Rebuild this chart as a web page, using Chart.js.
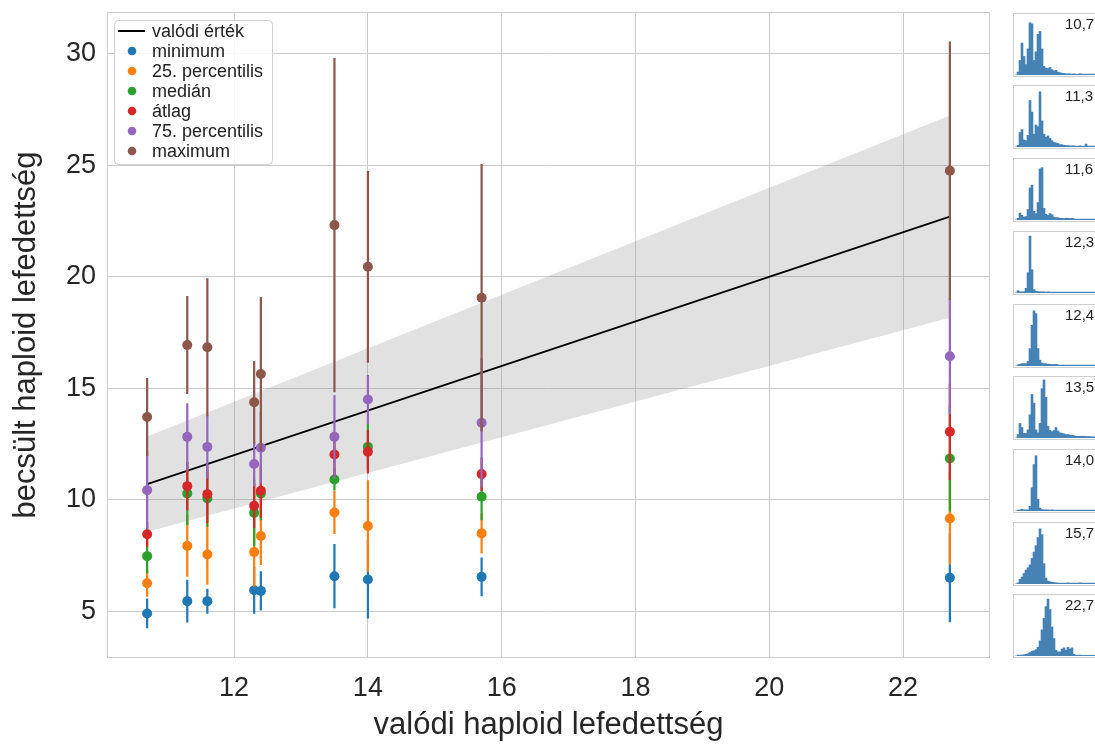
<!DOCTYPE html>
<html lang="hu">
<head>
<meta charset="UTF-8">
<title>Becsült és valódi haploid lefedettség</title>
<script src="https://cdn.jsdelivr.net/npm/chart.js@4.4.1/dist/chart.umd.min.js"></script>
<style>
    body {
        margin: 0;
        width: 1095px;
        height: 744px;
        overflow: hidden;
        background: #fff;
        position: relative;
        font-family: 'Liberation Sans', Arial, sans-serif;
    }
    #main { position: absolute; left: 0; top: 0; }
    .panel {
        position: absolute;
        left: 1013px;
        width: 88px;
        height: 64px;
        border: 1px solid #d0d0d0;
        box-sizing: border-box;
        overflow: hidden;
        background: #fff;
    }
    .panel canvas { display: block; }
</style>
</head>
<body>
<canvas id="main" width="1000" height="744"></canvas>
<div id="panels"></div>
<script>
// valódi lefedettség (x)
const trueCoverage = [10.7, 11.3, 11.6, 12.3, 12.4, 13.5, 14.0, 15.7, 22.7];

// becsült statisztikák és szórásuk
const minimum     = [4.90, 5.45, 5.45, 5.94, 5.91, 6.57, 6.42, 6.54, 6.50];
const minimumErr  = [0.67, 0.96, 0.56, 1.05, 0.88, 1.44, 1.75, 0.87, 2.00];
const pct25       = [6.25, 7.93, 7.54, 7.65, 8.37, 9.43, 8.82, 8.49, 9.16];
const pct25Err    = [0.60, 1.39, 1.35, 1.55, 1.30, 0.97, 2.05, 0.90, 2.07];
const median      = [7.47, 10.28, 10.06, 9.41, 10.28, 10.91, 12.37, 10.13, 11.85];
const medianErr   = [0.78, 1.42, 1.27, 1.50, 1.20, 0.50, 1.05, 1.05, 2.38];
const mean        = [8.45, 10.61, 10.25, 9.73, 10.40, 12.03, 12.15, 11.15, 13.05];
const meanErr     = [0.56, 1.08, 1.30, 1.00, 1.20, 1.00, 0.97, 0.75, 2.16];
const pct75       = [10.43, 12.82, 12.37, 11.60, 12.33, 12.82, 14.50, 13.45, 16.44];
const pct75Err    = [1.76, 1.51, 1.42, 1.00, 1.60, 1.87, 1.10, 2.90, 2.60];
const maximum     = [13.71, 16.94, 16.84, 14.37, 15.64, 22.32, 20.45, 19.06, 24.76];
const maximumErr  = [1.75, 2.20, 3.10, 1.85, 3.45, 7.50, 4.30, 6.00, 5.80];

// valódi érték vonal és ±20% sáv
const lineX    = [10.7, 22.7];
const lineY    = [10.7, 22.7];
const bandLow  = [8.56, 18.16];
const bandHigh = [12.84, 27.24];

const xTicks = [12, 14, 16, 18, 20, 22];
const yTicks = [5, 10, 15, 20, 25, 30];

const seriesNames = ['minimum', '25. percentilis', 'medián', 'átlag', '75. percentilis', 'maximum'];
const lineName = 'valódi érték';

// hisztogramok a jobb oldalon (relatív magasság)
const histLabels = ['10,7', '11,3', '11,6', '12,3', '12,4', '13,5', '14,0', '15,7', '22,7'];
const hist107 = [0,5,25,55,32,18,45,90,88,25,40,70,75,45,15,12,11,13,9,7,8,5,4,3,2.5,2,2,2,1.5,2,1.5,1.5,2,1.5,1.5,1.5,1.5,1.5,1.5,1.5,1.5,1.5];
const hist113 = [0,3,25,30,12,11,20,80,60,22,38,35,95,45,22,17,19,15,11,8,7,6,4,4,3,2.5,2.5,2,2,2,1.5,1.5,2,1.5,1.5,5,1.5,1.5,1.5,1.5,1.5,1.5];
const hist116 = [0,3,12,8,5,6,18,55,60,15,11,30,88,90,20,10,8,11,9,5,4,4,3,3,2.5,3,3,2.5,3,2,1.5,1.5,1.5,1.5,1.5,1.5,1.5,1.5,1.5,1.5,1.5,1.5];
const hist123 = [0,4,2,2,2,8,35,98,40,6,3,2.5,2,2,2,1.5,2,1.5,1.5,1.5,1.5,1.5,1.5,1.5,1.5,1.5,1.5,1.5,1.5,1.5,1.5,1.5,1.5,1.5,1.5,1.5,1.5,1.5,1.5,1.5,1.5,1.5];
const hist124 = [0,2,3,4,4,4,8,30,70,95,90,30,10,5,4,4,3,3,2.5,2.5,3,2,1.5,1.5,1.5,1.5,1.5,1.5,1.5,1.5,1.5,1.5,1.5,1.5,1.5,1.5,1.5,1.5,1.5,1.5,1.5,1.5];
const hist135 = [0,6,25,18,8,8,14,40,75,60,14,9,25,85,100,70,20,13,11,13,18,12,9,8,7,6,6,5,5,4,3,3,3,3,3,2.5,2.5,2.5,2,2,2,2];
const hist140 = [0,1.5,2,3,2,2,2,8,40,80,95,20,5,2.5,2,2,2,1.5,2,1.5,1.5,1.5,1.5,1.5,1.5,1.5,1.5,1.5,1.5,1.5,1.5,1.5,1.5,1.5,1.5,1.5,1.5,1.5,1.5,1.5,1.5,1.5];
const hist157 = [0,2,8,12,18,24,28,33,44,55,66,80,95,85,35,10,5,4,3,2.5,2,1.5,1.5,1.5,1.5,1.5,2,1.5,1.5,1.5,1.5,1.5,2,1.5,1.5,1.5,1.5,1.5,1.5,1.5,1.5,1.5];
const hist227 = [0,1.5,1.5,1.5,2,3,4,6,8,9,11,15,26,45,65,85,98,80,50,30,10,7,7,12,14,10,15,12,14,3,1.5,1.5,1.5,1,1,1,1,1,1,1,1,1];
const histograms = [hist107, hist113, hist116, hist123, hist124, hist135, hist140, hist157, hist227];

const colors = ['#1f77b4', '#ff7f0e', '#2ca02c', '#d62728', '#9467bd', '#8c564b'];
const values = [minimum, pct25, median, mean, pct75, maximum];
const errors = [minimumErr, pct25Err, medianErr, meanErr, pct75Err, maximumErr];

const tickFont = { family: "'Liberation Sans', Arial, sans-serif", size: 27 };
const titleFont = { family: "'Liberation Sans', Arial, sans-serif", size: 31 };
const textColor = '#262626';
const gridColor = '#cccccc';

// datasets: sáv, vonal, majd minden statisztika hibasávval és pontokkal
const datasets = [];
datasets.push({
    type: 'line', data: lineX.map((x, i) => ({ x: x, y: bandHigh[i] })),
    borderWidth: 0, pointRadius: 0, fill: '+1',
    backgroundColor: 'rgba(128,128,128,0.24)', order: 30
});
datasets.push({
    type: 'line', data: lineX.map((x, i) => ({ x: x, y: bandLow[i] })),
    borderWidth: 0, pointRadius: 0, fill: false, order: 30
});
datasets.push({
    type: 'line', data: lineX.map((x, i) => ({ x: x, y: lineY[i] })),
    borderColor: '#000', borderWidth: 1.8, pointRadius: 0, fill: false, order: 29
});
values.forEach((vals, k) => {
    const bars = [];
    trueCoverage.forEach((x, i) => {
        bars.push({ x: x, y: vals[i] - errors[k][i] });
        bars.push({ x: x, y: vals[i] + errors[k][i] });
        bars.push({ x: x, y: null });
    });
    datasets.push({
        type: 'line', data: bars, borderColor: colors[k], borderWidth: 2.2,
        pointRadius: 0, fill: false, spanGaps: false, showLine: true,
        borderCapStyle: 'butt', order: 20 - 2 * k
    });
    datasets.push({
        type: 'scatter', data: trueCoverage.map((x, i) => ({ x: x, y: vals[i] })),
        backgroundColor: colors[k], borderWidth: 0, pointRadius: 5, order: 19 - 2 * k
    });
});

const framePlugin = {
    id: 'frame',
    beforeDatasetsDraw(chart) {
        const a = chart.chartArea, ctx = chart.ctx;
        ctx.save();
        ctx.strokeStyle = gridColor;
        ctx.lineWidth = 1;
        ctx.strokeRect(Math.round(a.left) + 0.5, Math.round(a.top) + 0.5,
            Math.round(a.right - a.left) - 1, Math.round(a.bottom - a.top) - 1);
        ctx.restore();
    }
};

const legendPlugin = {
    id: 'boxLegend',
    afterDraw(chart) {
        const a = chart.chartArea, ctx = chart.ctx;
        const left = a.left + 7, top = a.top + 8;
        const w = 158, h = 144, r = 4;
        ctx.save();
        ctx.beginPath();
        ctx.roundRect(left + 0.5, top + 0.5, w, h, r);
        ctx.fillStyle = 'rgba(255,255,255,0.85)';
        ctx.fill();
        ctx.strokeStyle = '#d0d0d0';
        ctx.lineWidth = 1;
        ctx.stroke();
        ctx.font = "18px 'Liberation Sans', Arial, sans-serif";
        ctx.textBaseline = 'middle';
        ctx.fillStyle = '#222';
        let y = top + 11;
        ctx.strokeStyle = '#000';
        ctx.lineWidth = 2;
        ctx.beginPath();
        ctx.moveTo(left + 4, y);
        ctx.lineTo(left + 31, y);
        ctx.stroke();
        ctx.fillText(lineName, left + 38, y + 1);
        seriesNames.forEach((name, k) => {
            y = top + 31 + 20 * k;
            ctx.beginPath();
            ctx.arc(left + 18, y, 4.3, 0, Math.PI * 2);
            ctx.fillStyle = colors[k];
            ctx.fill();
            ctx.fillStyle = '#222';
            ctx.fillText(name, left + 38, y + 1);
        });
        ctx.restore();
    }
};

function noEdgePadding(s) {
    s.paddingTop = 0; s.paddingBottom = 0;
    s.paddingLeft = 0; s.paddingRight = 0;
}

new Chart(document.getElementById('main'), {
    type: 'scatter',
    data: { datasets: datasets },
    options: {
        responsive: false,
        animation: false,
        events: [],
        layout: { padding: { top: 12, right: 10, bottom: 0, left: 0 } },
        plugins: { legend: { display: false }, tooltip: { enabled: false } },
        scales: {
            x: {
                type: 'linear', min: 10.1, max: 23.3,
                afterBuildTicks: s => { s.ticks = xTicks.map(v => ({ value: v })); },
                afterFit: s => { s.height = 86; noEdgePadding(s); },
                grid: { color: gridColor, lineWidth: 1, drawTicks: false },
                border: { display: false },
                ticks: { font: tickFont, color: textColor, padding: 14 },
                title: { display: true, text: 'valódi haploid lefedettség', font: titleFont,
                         color: textColor, padding: { top: 4, bottom: 0 } }
            },
            y: {
                type: 'linear', min: 2.9, max: 31.88,
                afterBuildTicks: s => { s.ticks = yTicks.map(v => ({ value: v })); },
                afterFit: s => { s.width = 107; noEdgePadding(s); },
                grid: { color: gridColor, lineWidth: 1, drawTicks: false },
                border: { display: false },
                ticks: { font: tickFont, color: textColor, padding: 11 },
                title: { display: true, text: 'becsült haploid lefedettség', font: titleFont,
                         color: textColor, padding: { top: 8, bottom: 4 } }
            }
        }
    },
    plugins: [framePlugin, legendPlugin]
});

// kis hisztogramok
const panels = document.getElementById('panels');
histograms.forEach((bins, p) => {
    const div = document.createElement('div');
    div.className = 'panel';
    div.style.top = Math.round(12.7 + 72.7 * p) + 'px';
    const cv = document.createElement('canvas');
    cv.width = 86; cv.height = 62;
    div.appendChild(cv);
    panels.appendChild(div);
    const label = histLabels[p];
    new Chart(cv, {
        type: 'bar',
        data: {
            labels: bins.map((_, i) => i),
            datasets: [{ data: bins, backgroundColor: '#4682b4', borderWidth: 0,
                         barPercentage: 1, categoryPercentage: 1 }]
        },
        options: {
            responsive: false, animation: false, events: [],
            layout: { padding: { left: 1, right: 1, top: 0, bottom: 1 } },
            plugins: { legend: { display: false }, tooltip: { enabled: false } },
            scales: { x: { display: false }, y: { display: false, min: 0, max: 105 } }
        },
        plugins: [{
            id: 'panelLabel',
            afterDraw(chart) {
                const ctx = chart.ctx;
                ctx.save();
                ctx.font = "15px 'Liberation Sans', Arial, sans-serif";
                ctx.fillStyle = '#222';
                ctx.textBaseline = 'alphabetic';
                ctx.fillText(label, 51, 15);
                ctx.restore();
            }
        }]
    });
});
</script>
</body>
</html>
